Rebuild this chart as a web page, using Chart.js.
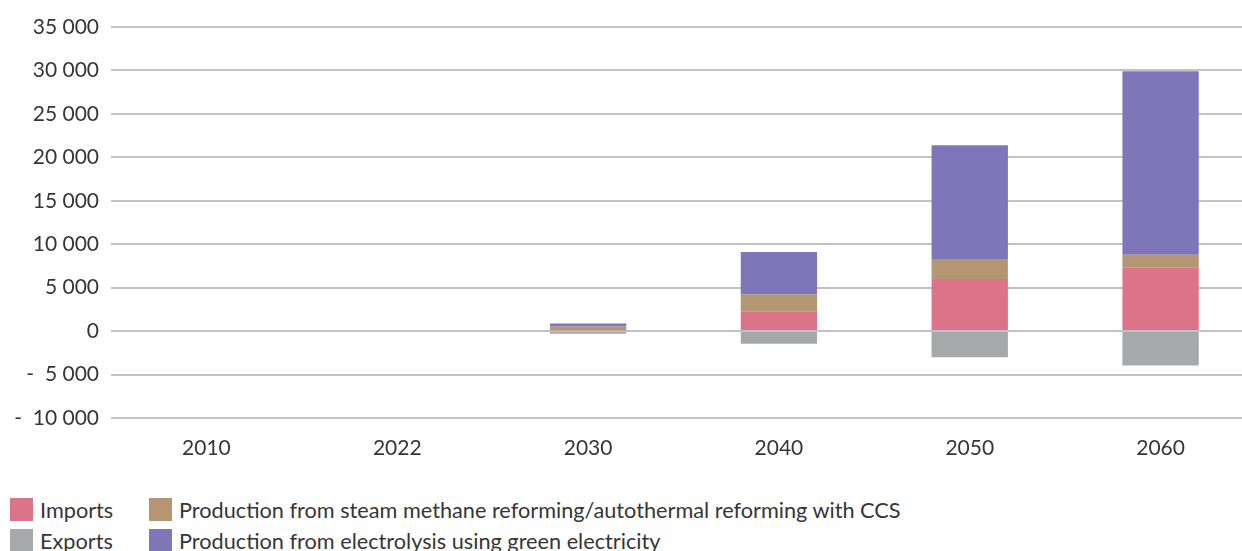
<!DOCTYPE html>
<html>
<head>
<meta charset="utf-8">
<script src="https://cdn.jsdelivr.net/npm/chart.js@4/dist/chart.umd.min.js"></script>
<style>
  html, body { margin: 0; padding: 0; background: #fff; overflow: hidden; width: 1242px; height: 551px; }
  #wrap { position: relative; width: 1256px; height: 470px; }
  #legend {
    position: absolute; left: 10px; top: 498px;
    display: grid; grid-template-columns: 139px auto; row-gap: 8px;
    font-family: Lato, sans-serif; font-size: 21.7px; color: #363636;
  }
  .item { display: flex; align-items: center; height: 23px; white-space: nowrap; }
  .sw { width: 23px; height: 23px; margin-right: 7px; flex: none; }
</style>
</head>
<body>
<div id="wrap"><canvas id="my-chart" width="1256" height="470"></canvas></div>
<div id="legend"></div>
<script>
const years = ['2010', '2022', '2030', '2040', '2050', '2060'];
const imports = [0, 0, 100, 2300, 6000, 7300];
const exportsH2 = [0, 0, -300, -1450, -3000, -3950];
const smrCcs = [0, 0, 430, 1900, 2300, 1500];
const electrolysis = [0, 0, 350, 4900, 13100, 21100];

const colors = {
  imports: '#db7489',
  exports: '#a7a8aa',
  smr: '#b59672',
  electrolysis: '#7e76b8'
};

const fmt = v => {
  const s = Math.abs(v).toString().replace(/\B(?=(\d{3})+(?!\d))/g, ' ');
  return v < 0 ? '-  ' + s : s;
};

const datasets = [
  { label: 'Imports', data: imports, backgroundColor: colors.imports },
  { label: 'Exports', data: exportsH2, backgroundColor: colors.exports },
  { label: 'Production from steam methane reforming/autothermal reforming with CCS', data: smrCcs, backgroundColor: colors.smr },
  { label: 'Production from electrolysis using green electricity', data: electrolysis, backgroundColor: colors.electrolysis }
];

const ctx = document.getElementById('my-chart').getContext('2d');
const chart = new Chart(ctx, {
  type: 'bar',
  data: {
    labels: years,
    datasets: datasets.map(d => Object.assign({ stack: 's', categoryPercentage: 1, barPercentage: 0.4, borderWidth: 0 }, d))
  },
  options: {
    responsive: false,
    animation: false,
    layout: { padding: { top: 27, right: 0, left: 0, bottom: 0 } },
    plugins: { legend: { display: false }, tooltip: { enabled: false } },
    scales: {
      x: {
        stacked: true,
        grid: { display: false },
        border: { display: false },
        ticks: { color: '#363636', font: { family: 'Lato', size: 21 }, padding: 10 },
        afterFit: s => { s.height = 52; }
      },
      y: {
        stacked: true,
        min: -10000,
        max: 35000,
        ticks: {
          stepSize: 5000,
          color: '#363636',
          font: { family: 'Lato', size: 21 },
          padding: 12,
          callback: v => fmt(v)
        },
        grid: { color: '#c2c2c6', lineWidth: 2, drawTicks: false },
        border: { display: false },
        afterFit: s => { s.width = 111; }
      }
    }
  }
});

// legend in two columns: imports / smr, exports / electrolysis
const legend = document.getElementById('legend');
[0, 2, 1, 3].forEach(i => {
  const d = datasets[i];
  const el = document.createElement('div');
  el.className = 'item';
  el.innerHTML = '<span class="sw" style="background:' + d.backgroundColor + '"></span><span>' + d.label + '</span>';
  legend.appendChild(el);
});
</script>
</body>
</html>
